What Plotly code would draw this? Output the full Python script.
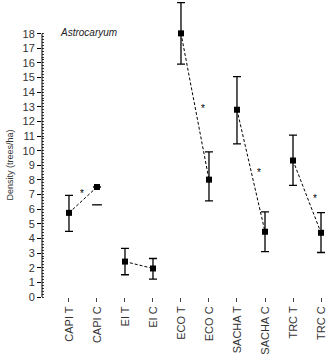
import plotly.graph_objects as go

categories = ["CAPI T", "CAPI C", "EI T", "EI C", "ECO T", "ECO C",
              "SACHA T", "SACHA C", "TRC T", "TRC C"]
density = [5.75, 7.52, 2.42, 1.95, 18.02, 8.02, 12.8, 4.46, 9.33, 4.39]
err_plus = [1.2, 0.0, 0.9, 0.68, 2.1, 1.9, 2.26, 1.36, 1.74, 1.38]
err_minus = [1.27, 1.22, 0.9, 0.73, 2.1, 1.45, 2.34, 1.36, 1.7, 1.35]
whisker_drawn = [True, False, True, True, True, True, True, True, True, True]
significant = [True, False, True, True, True]  # per T/C pair
y_ticks = list(range(0, 19))

fig = go.Figure()
xs = list(range(len(categories)))

# dashed connector lines per pair
for p in range(5):
    i, j = 2 * p, 2 * p + 1
    fig.add_trace(go.Scatter(
        x=[xs[i], xs[j]], y=[density[i], density[j]], mode="lines",
        line=dict(color="black", width=1, dash="3px,2px"),
        hoverinfo="skip", showlegend=False))

ep = [e if w else 0 for e, w in zip(err_plus, whisker_drawn)]
em = [e if w else 0 for e, w in zip(err_minus, whisker_drawn)]
fig.add_trace(go.Scatter(
    x=xs, y=density, mode="markers",
    marker=dict(symbol="square", size=6, color="black"),
    error_y=dict(type="data", symmetric=False, array=ep,
                 arrayminus=em, color="black", thickness=1.3, width=4),
    showlegend=False))

# lone lower caps where the whisker is not drawn
cap_x = [x for x, w in zip(xs, whisker_drawn) if not w]
cap_y = [d - m for d, m, w in zip(density, err_minus, whisker_drawn) if not w]
fig.add_trace(go.Scatter(
    x=cap_x, y=cap_y, mode="markers",
    marker=dict(symbol="line-ew", size=7, line=dict(color="black", width=1.3)),
    showlegend=False, hoverinfo="skip"))

annotations = []
for p, sig in enumerate(significant):
    if not sig:
        continue
    i, j = 2 * p, 2 * p + 1
    mx = (xs[i] + xs[j]) / 2
    my = (density[i] + density[j]) / 2
    annotations.append(dict(x=mx, y=my, xref="x", yref="y", text="*",
                            showarrow=False,
                            xshift=-1 if p == 0 else 8,
                            yshift=6 if p == 0 else -2,
                            font=dict(family="Liberation Sans", size=10,
                                      color="black")))

annotations.append(dict(x=0.055, y=18.1, xref="paper", yref="y",
                        text="<i>Astrocaryum</i>", showarrow=False,
                        xanchor="left", yanchor="middle",
                        font=dict(family="Liberation Sans", size=10,
                                  color="#222")))
annotations.append(dict(x=-0.11, y=9, xref="paper", yref="y",
                        text="Density (trees/ha)", showarrow=False,
                        textangle=-90, xanchor="center", yanchor="middle",
                        font=dict(family="Liberation Sans", size=9,
                                  color="#333")))

fig.update_layout(
    width=336, height=355,
    margin=dict(l=42, r=4, t=0, b=56),
    paper_bgcolor="white", plot_bgcolor="white",
    annotations=annotations,
    shapes=[dict(type="line", xref="paper", yref="y", x0=0, x1=0,
                 y0=0, y1=18, line=dict(color="black", width=1))],
    xaxis=dict(range=[-0.964, 9.393], tickmode="array", tickvals=xs,
               ticktext=categories, tickangle=-90, showline=False,
               showgrid=False, zeroline=False, ticks="outside", ticklen=4,
               tickcolor="#444",
               tickfont=dict(family="Liberation Sans", size=11, color="#333")),
    yaxis=dict(range=[0, 20.3], tickmode="array", tickvals=y_ticks,
               showline=False, showgrid=False, zeroline=False,
               ticks="outside", ticklen=4, tickcolor="black",
               tickfont=dict(family="Liberation Sans", size=11, color="#333"),
               minor=dict(tickmode="array",
                          tickvals=[k / 5 for k in range(0, 91)],
                          ticks="inside", ticklen=2, tickcolor="#333",
                          showgrid=False)),
)

fig.write_html("out.html")
